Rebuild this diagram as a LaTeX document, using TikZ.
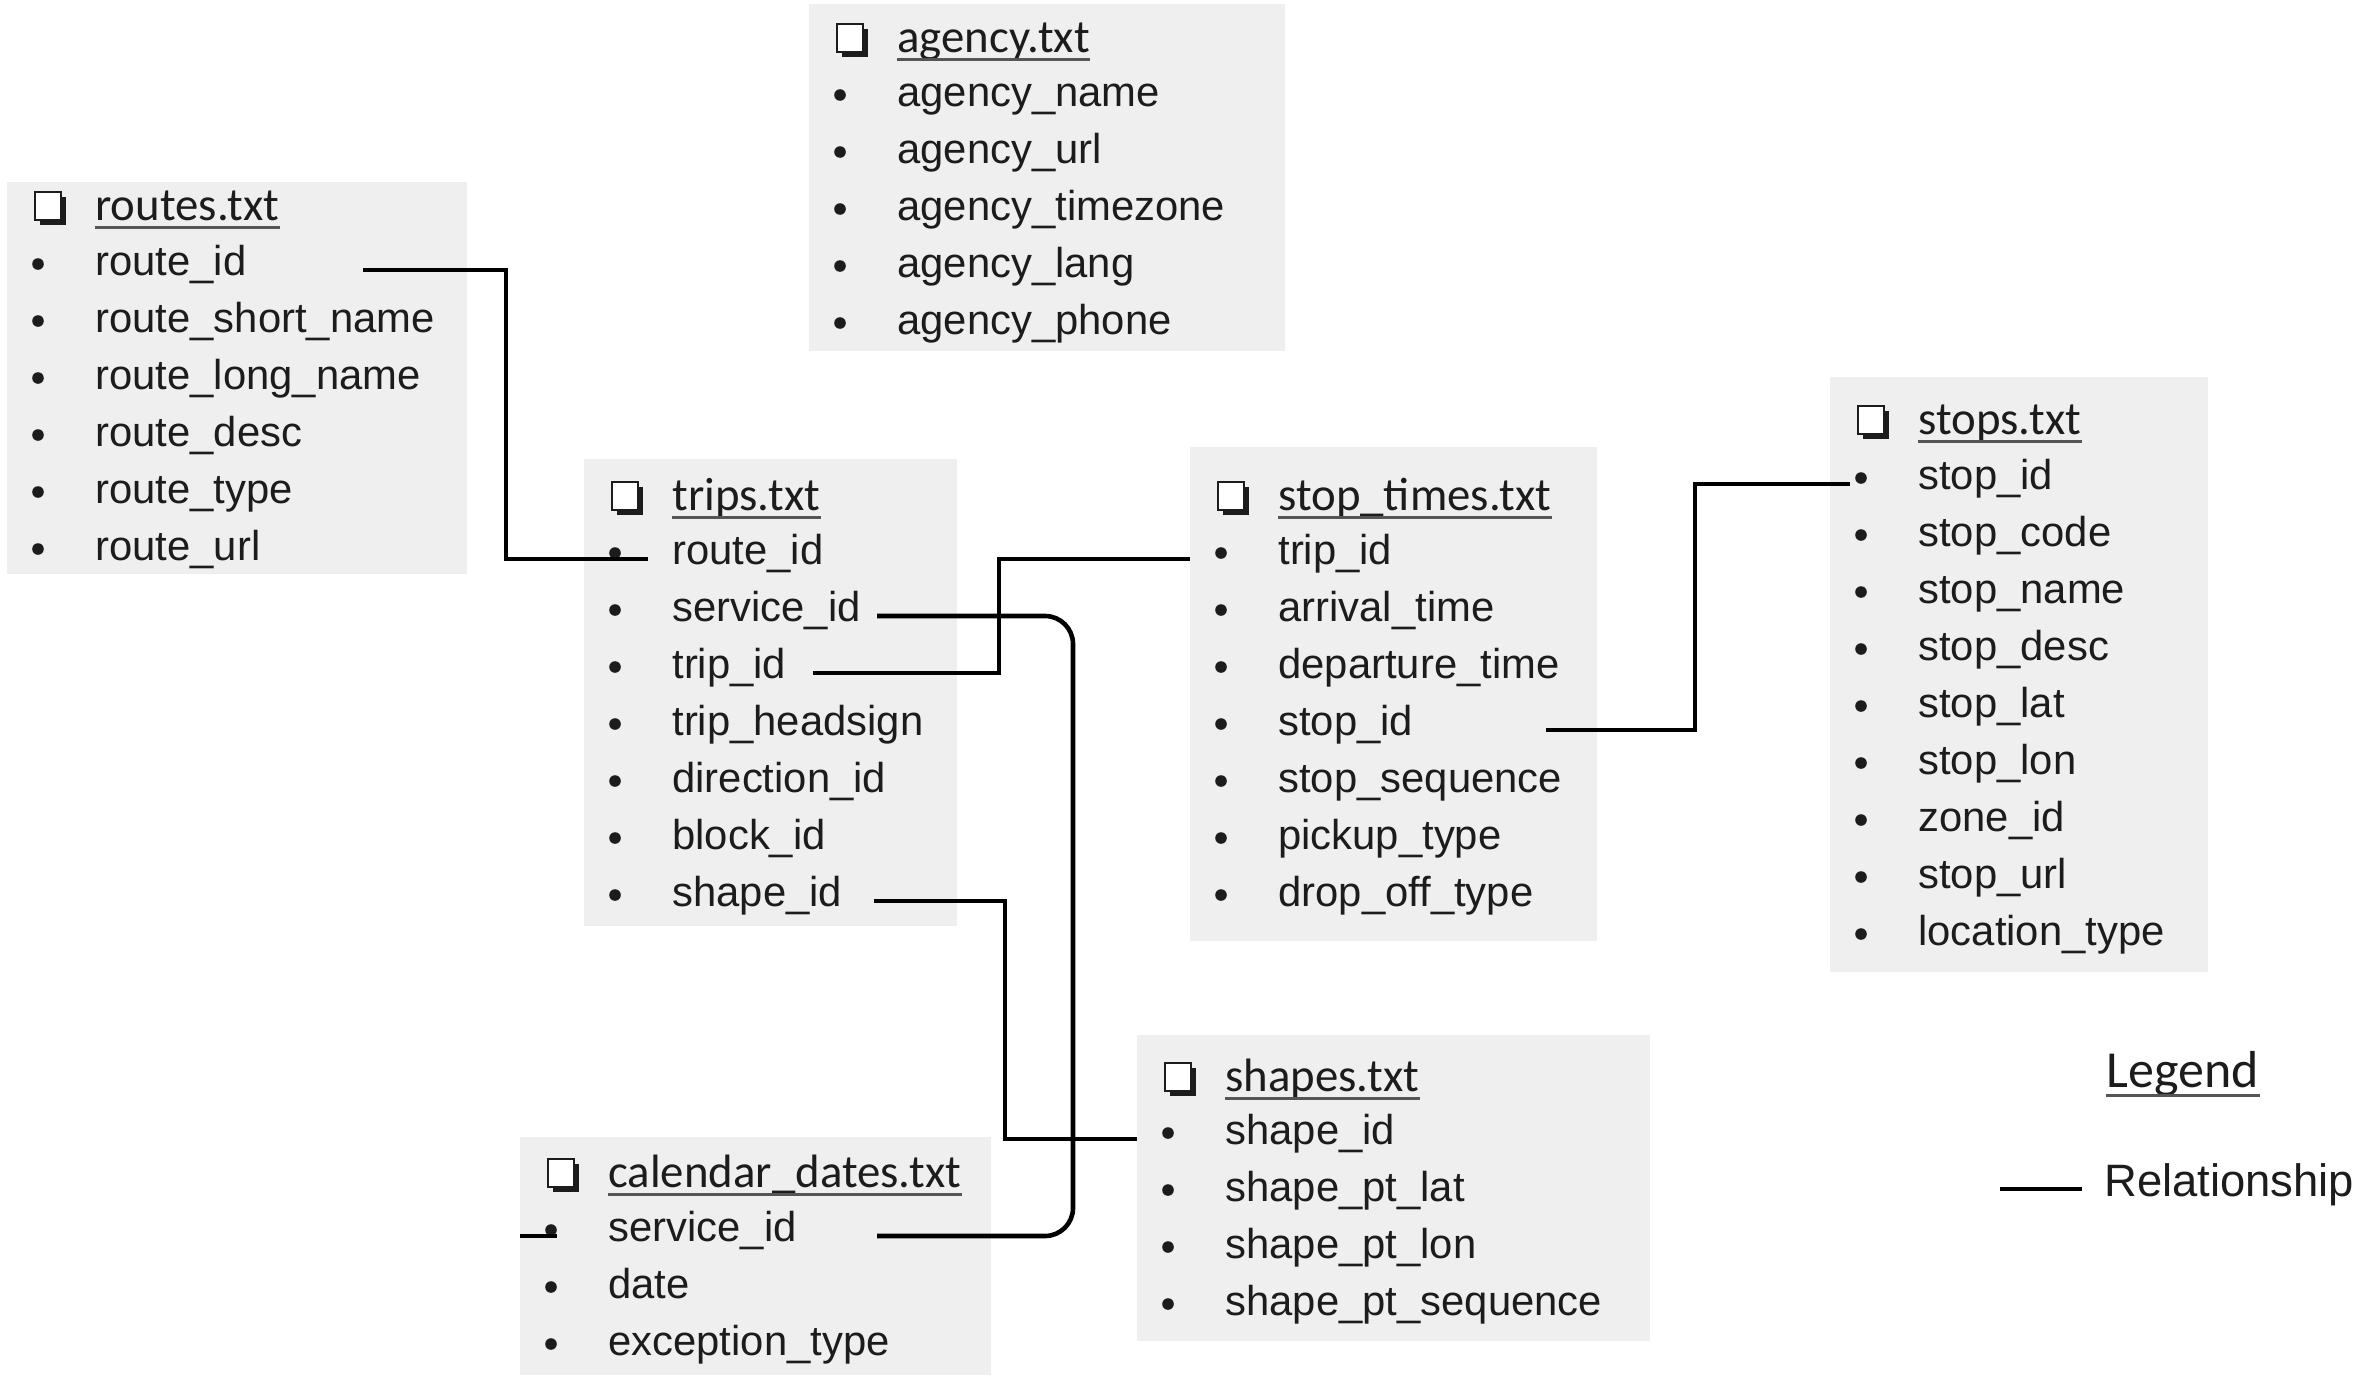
\documentclass[tikz,border=0pt]{standalone}
\usepackage{fontspec}
\setmainfont{Liberation Sans}
\newfontfamily\ttlfont{Carlito}
\usetikzlibrary{fit,calc}
\definecolor{boxgray}{HTML}{EFEFEF}
\definecolor{ink}{HTML}{1C1C1C}
\definecolor{ulgray}{HTML}{555555}
\tikzset{
  rel/.style={line width=2.3pt, draw=black},
  item/.style={anchor=west, inner sep=0, text height=0.75em, text depth=0.2em,
    font=\fontsize{20.9pt}{25pt}\selectfont, text=ink},
  ttl/.style={anchor=west, inner sep=0, text height=0.7em, text depth=0.2em,
    font=\ttlfont\fontsize{23.4pt}{28pt}\selectfont, text=ink},
  tbl/.style={fill=boxgray, inner sep=0},
  ulline/.style={line width=1.5pt, draw=ulgray},
}
\newcommand{\gtable}[9]{%
  \node[tbl, fit={(#2,#3) (#4,#5)}] (#1) {};
  \fill[ink] (#2+41-13+5,#6-14+5) rectangle (#2+41+13+5,#6+14+5);
  \filldraw[fill=white, draw=ink, line width=1.4pt] (#2+41-13,#6-14) rectangle (#2+41+13,#6+14);
  \node[ttl] (#1-t) at (#2+88,#6+9) {#8};
  \draw[ulline] ($(#1-t.base west)+(0,7)$) -- ($(#1-t.base east)+(0,7)$);
  \foreach \txt [count=\i from 0] in {#9} {
    \fill[ink] (#2+31,#7+2+\i*57) circle (2.9pt);
    \node[item] (#1-\i) at (#2+88,#7+8+\i*57) {\txt};
  }
}
\begin{document}
\begin{tikzpicture}[x=0.5pt, y=-0.5pt]
\useasboundingbox (0,0) rectangle (2362,1381);

\gtable{ag}{809}{4}{1285}{351}{38}{93}{agency.txt}{agency\_name, agency\_url, agency\_timezone, agency\_lang, agency\_phone}
\gtable{rt}{7}{182}{467}{574}{206}{262}{routes.txt}{route\_id, route\_short\_name, route\_long\_name, route\_desc, route\_type, route\_url}
\gtable{tr}{584}{459}{957}{926}{496}{551}{trips.txt}{route\_id, service\_id, trip\_id, trip\_headsign, direction\_id, block\_id, shape\_id}
\gtable{st}{1190}{447}{1597}{941}{496}{551}{stop\_times.txt}{trip\_id, arrival\_time, departure\_time, stop\_id, stop\_sequence, pickup\_type, drop\_off\_type}
\gtable{sp}{1830}{377}{2208}{972}{420}{476}{stops.txt}{stop\_id, stop\_code, stop\_name, stop\_desc, stop\_lat, stop\_lon, zone\_id, stop\_url, location\_type}
\gtable{sh}{1137}{1035}{1650}{1341}{1077}{1131}{shapes.txt}{shape\_id, shape\_pt\_lat, shape\_pt\_lon, shape\_pt\_sequence}
\gtable{cd}{520}{1137}{991}{1375}{1173}{1228}{calendar\_dates.txt}{service\_id, date, exception\_type}

% relationships
\draw[rel] (363,0 |- rt-0) -| (506,0 |- tr-0) -- (648,0 |- tr-0);
\draw[rel] (813,0 |- tr-2) -| (999,0 |- st-0) -- (st.west |- st-0);
\draw[rel, rounded corners=14pt] (877,0 |- tr-1) -| (1073,0 |- cd-0) -- (877,0 |- cd-0);
\draw[rel] (874,0 |- tr-6) -| (1005,0 |- sh-0) -- (sh.west |- sh-0);
\draw[rel] (1546,0 |- st-3) -| (1695,0 |- sp-0) -- (1850,0 |- sp-0);
\coordinate (cdstub) at (557,0 |- cd-0);
\draw[rel] (cd.west |- cd-0) -- (cdstub);

% legend
\node[inner sep=0, text height=0.7em, text depth=0.2em, font=\ttlfont\fontsize{26pt}{30pt}\selectfont, text=ink] (leg) at (2183,1082) {Legend};
\draw[ulline] ($(leg.base west)+(0,8)$) -- ($(leg.base east)+(0,8)$);
\node[anchor=west, inner sep=0, text height=0.75em, text depth=0.2em, font=\fontsize{22.7pt}{27pt}\selectfont, text=ink] (legrel) at (2104,1191) {Relationship};
\coordinate (legl) at (2000,1189);
\draw[rel] (legl) -- ++(82,0);
\end{tikzpicture}
\end{document}
